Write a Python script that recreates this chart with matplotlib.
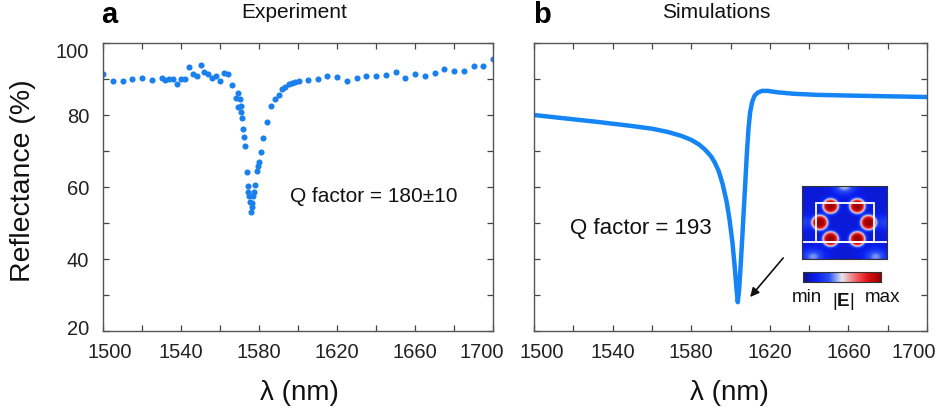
import numpy as np
import matplotlib
matplotlib.use("Agg")
import matplotlib.pyplot as plt
from matplotlib.colors import LinearSegmentedColormap
from matplotlib.patches import Rectangle
from matplotlib.transforms import ScaledTranslation

plt.rcParams['font.family'] = ['Liberation Sans', 'DejaVu Sans']
plt.rcParams['mathtext.fontset'] = 'custom'
plt.rcParams['mathtext.rm'] = 'Liberation Sans'
plt.rcParams['mathtext.bf'] = 'Liberation Sans:bold'

# ---------------- data ----------------
exp_wl = [1500, 1505, 1510, 1515, 1520, 1525, 1530, 1532, 1534, 1536, 1538, 1540, 1542,
          1544, 1546, 1548, 1550, 1552, 1554, 1556, 1558, 1560, 1562, 1564, 1566,
          1568, 1569, 1569.4, 1570, 1571, 1570.9, 1571.5, 1572, 1572.2, 1572.8, 1573.7,
          1574.2, 1574.5, 1575, 1575.4, 1575.7, 1576.2, 1576.2, 1577.1, 1577.4, 1578,
          1578.8, 1579.6, 1580.1, 1581, 1582, 1584, 1586, 1588, 1590, 1592, 1593.5,
          1595.2, 1596.9, 1598.6, 1600.4, 1605, 1610, 1615, 1620, 1625, 1630, 1635,
          1640, 1645, 1650, 1655, 1660, 1665, 1670, 1675, 1680, 1685, 1690, 1695, 1700]
exp_R = [91.5, 89.4, 89.4, 90.0, 90.4, 89.8, 90.3, 89.8, 90.0, 90.0, 88.7, 89.9, 90.1,
         93.3, 91.3, 90.9, 93.9, 92.0, 91.3, 90.2, 90.9, 89.4, 91.7, 91.5, 88.4,
         84.7, 86.0, 82.3, 84.4, 82.4, 80.9, 79.1, 76.1, 74.0, 71.4, 64.3,
         60.4, 58.7, 57.4, 55.9, 53.0, 55.6, 54.4, 57.4, 58.7, 60.6,
         64.5, 65.8, 67.0, 69.6, 73.6, 78.1, 82.4, 84.4, 85.5, 87.2, 87.9,
         88.6, 88.8, 89.1, 89.5, 89.6, 90.0, 90.9, 90.5, 89.4, 90.3, 90.8,
         90.8, 91.1, 91.9, 90.4, 91.3, 90.8, 91.7, 92.7, 92.3, 92.2, 93.7, 93.5, 95.6]

sim_wl = [1500, 1515, 1532, 1549, 1560, 1568, 1575, 1580, 1584, 1587, 1590, 1592, 1594,
          1596, 1598, 1599.5, 1601, 1602.2, 1603, 1603.7, 1604.4, 1605.2, 1606, 1606.8,
          1607.6, 1608.4, 1609.2, 1610, 1611, 1612.2, 1613.8, 1616, 1619, 1624, 1632,
          1644, 1660, 1680, 1700]
sim_R = [80.0, 79.1, 78.1, 77.0, 76.2, 75.3, 74.2, 73.1, 71.8, 70.4, 68.6, 66.8, 64.4,
         60.8, 56.0, 51.0, 44.5, 37.5, 32.0, 28.0, 31.5, 38.5, 46.0, 54.0,
         62.0, 70.0, 76.5, 80.8, 83.6, 85.3, 86.2, 86.7, 86.7, 86.3, 85.9,
         85.6, 85.4, 85.2, 85.0]

x_ticks = list(range(1500, 1701, 20))
x_labels = [str(t) if (t - 1500) % 40 == 0 else '' for t in x_ticks]
y_ticks = list(range(20, 101, 10))
y_labels = [str(t) if t % 20 == 0 else '' for t in y_ticks]

# inset field map: lobe centres (fraction of width, fraction of height from top)
lobe_u = [0.336, 0.652, 0.21, 0.783, 0.336, 0.652]
lobe_v = [0.273, 0.273, 0.50, 0.50, 0.727, 0.727]
glow_u = [0.50, 0.13, 0.87, 0.02, 0.98]
glow_v = [0.0, 0.97, 0.97, 0.5, 0.5]
glow_a = [0.33, 0.28, 0.28, 0.15, 0.15]

blue = '#1a80ee'

# ---------------- figure ----------------
fig = plt.figure(figsize=(9.41, 4.14), dpi=100)
ax1 = fig.add_axes([103/941, 1-332/414, 390/941, 288/414])
ax2 = fig.add_axes([534/941, 1-332/414, 393/941, 288/414])

ax1.plot(exp_wl, exp_R, 'o', color=blue, ms=4.4, mec='none')
ax2.plot(sim_wl, sim_R, '-', color='#1585f5', lw=3.2, solid_joinstyle='round')

for ax in (ax1, ax2):
    ax.set_xlim(1500, 1700)
    ax.set_ylim(20, 100)
    ax.set_xticks(x_ticks, x_labels)
    ax.set_yticks(y_ticks, y_labels)
    ax.tick_params(direction='in', top=True, right=True, length=4.5, width=0.9,
                   color='#444444', labelsize=14.5, labelcolor='#222222')
    ax.tick_params(axis='x', pad=8)
    ax.tick_params(axis='y', pad=10)
    for s in ax.spines.values():
        s.set_color('#555555')
        s.set_linewidth(1.0)
ax2.set_yticklabels([])

def nudge(lbl, dx, dy):
    lbl.set_transform(lbl.get_transform() + ScaledTranslation(dx/100, dy/100, fig.dpi_scale_trans))

xt1 = ax1.get_xticklabels()
nudge(xt1[0], 7, 0)
nudge(xt1[-1], -11, 0)
xt2 = ax2.get_xticklabels()
nudge(xt2[0], 8, 0)
nudge(xt2[-1], -13, 0)
yt1 = ax1.get_yticklabels()
nudge(yt1[-1], 0, -6)
nudge(yt1[0], 0, 4)

# labels
fig.text(23/941, 1-181/414, 'Reflectance (%)', rotation=90, ha='center', va='center',
         fontsize=20.5, color='#111111')
fig.text(299/941, 1-393/414, 'λ (nm)', ha='center', va='center', fontsize=20, color='#111111')
fig.text(729/941, 1-393/414, 'λ (nm)', ha='center', va='center', fontsize=20, color='#111111')

fig.text(101/941, 1-23/414, 'a', ha='left', va='baseline', fontsize=21, fontweight='bold')
fig.text(533/941, 1-23/414, 'b', ha='left', va='baseline', fontsize=21, fontweight='bold')
fig.text(294/941, 1-18.5/414, 'Experiment', ha='center', va='baseline', fontsize=15, color='#111111')
fig.text(716/941, 1-18.5/414, 'Simulations', ha='center', va='baseline', fontsize=15, color='#111111')

ax1.text(0.695, 0.472, 'Q factor = 180±10', transform=ax1.transAxes, ha='center', va='center',
         fontsize=15, color='#111111')
ax2.text(0.271, 0.361, 'Q factor = 193', transform=ax2.transAxes, ha='center', va='center',
         fontsize=16, color='#111111')

ax2.annotate('', xy=(0.550, 0.118), xytext=(0.634, 0.2535), xycoords='axes fraction',
             textcoords='axes fraction',
             arrowprops=dict(arrowstyle='-|>', color='#111111', lw=1.2, mutation_scale=13,
                             shrinkA=0, shrinkB=0))

# inset field map
cmap = LinearSegmentedColormap.from_list('field', ['#10108a', '#0a1ef0', '#2a50f5', '#e6e6ee',
                                                    '#f26a6a', '#e01212', '#960000'])
nu, nv = 170, 146
u = np.linspace(0, 1, nu)[None, :]
v = np.linspace(0, 1, nv)[:, None]
field = np.full((nv, nu), 0.13)
for lu, lv in zip(lobe_u, lobe_v):
    r2 = ((u-lu)/0.095)**2 + ((v-lv)/0.105)**2
    field = field + 0.85*np.exp(-r2**2)
for gu, gv, ga in zip(glow_u, glow_v, glow_a):
    field = field + ga*np.exp(-(((u-gu)/0.12)**2 + ((v-gv)/0.10)**2))
field = np.clip(field, 0, 1)

axi = fig.add_axes([802/941, 1-260/414, 85/941, 73/414])
axi.imshow(field, cmap=cmap, vmin=0, vmax=1, extent=(0, 1, 1, 0), aspect='auto',
           interpolation='bilinear')
axi.add_patch(Rectangle((0.162, 0.227), 0.68, 0.537, fill=False, ec='white', lw=1.3))
axi.plot([0, 1], [0.764, 0.764], color='white', lw=1.3)
axi.set_xlim(0, 1); axi.set_ylim(1, 0)
axi.set_xticks([]); axi.set_yticks([])
for s in axi.spines.values():
    s.set_color('#333333'); s.set_linewidth(0.8)

axc = fig.add_axes([803/941, 1-283/414, 78/941, 10/414])
axc.imshow(np.linspace(0, 1, 256)[None, :], cmap=cmap, aspect='auto', extent=(0, 1, 0, 1))
axc.set_xticks([]); axc.set_yticks([])
for s in axc.spines.values():
    s.set_color('#333333'); s.set_linewidth(0.8)

fig.text(807/941, 1-298/414, 'min', ha='center', va='center', fontsize=13.5, color='#111111')
fig.text(843/941, 1-302/414, r'|$\mathbf{E}$|', ha='center', va='center', fontsize=13.5, color='#111111')
fig.text(883/941, 1-298/414, 'max', ha='center', va='center', fontsize=13.5, color='#111111')

fig.savefig('out.png', dpi=100)
